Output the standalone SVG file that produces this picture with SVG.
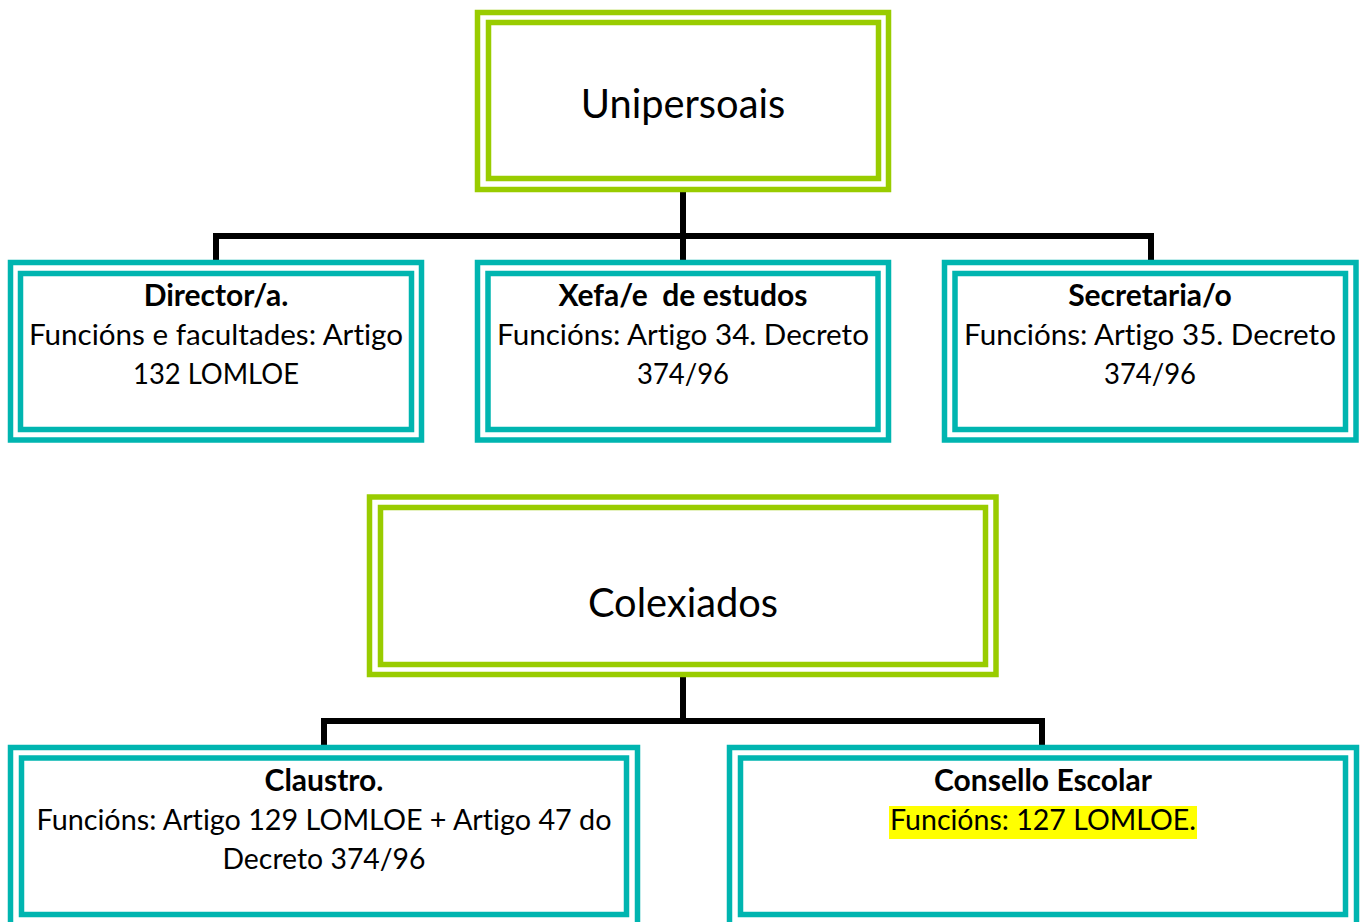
<svg xmlns="http://www.w3.org/2000/svg" width="1360" height="922" viewBox="0 0 1360 922">
<style>
.g{fill:none;stroke:#99CC00;stroke-width:5.5}
.t{fill:none;stroke:#00B5B0;stroke-width:5.5}
.c{fill:none;stroke:#000;stroke-width:6;stroke-linecap:butt}
text{font-family:Lato,"Open Sans","Liberation Sans",sans-serif;fill:#000;text-anchor:middle;font-variant-ligatures:none;font-feature-settings:"liga" 0}
.h{font-size:39.8px}
.b{font-size:30px;font-weight:bold}
.n{font-size:29.6px}
</style>
<rect width="1360" height="922" fill="#fff"/>
<g id="connectors">
<path class="c" d="M683 192V236M216 260V236H1151V260M683 236V260"/>
<path class="c" d="M683 677V721M324 745V721H1042V745"/>
</g>
<g id="unipersoais">
<rect class="g" x="477.5" y="12.5" width="411" height="177"/>
<rect class="g" x="488.5" y="22.5" width="390" height="156"/>
<text class="h" x="683" y="118">Unipersoais</text>
</g>
<g id="director">
<rect class="t" x="10.5" y="262.5" width="411" height="177.5"/>
<rect class="t" x="20.5" y="273.5" width="391" height="156"/>
<text class="b" x="216" y="306">Director/a.</text>
<text class="n" x="216" y="345">Funcións e facultades: Artigo</text>
<text class="n" x="216" y="384" textLength="166" lengthAdjust="spacingAndGlyphs">132 LOMLOE</text>
</g>
<g id="xefe">
<rect class="t" x="477.5" y="262.5" width="411" height="177.5"/>
<rect class="t" x="488" y="273.5" width="390" height="156"/>
<text class="b" x="683" y="306" xml:space="preserve">Xefa/e  de estudos</text>
<text class="n" x="683" y="345">Funcións: Artigo 34. Decreto</text>
<text class="n" x="683" y="384" textLength="92" lengthAdjust="spacingAndGlyphs">374/96</text>
</g>
<g id="secretaria">
<rect class="t" x="944.5" y="262.5" width="411.5" height="177.5"/>
<rect class="t" x="955" y="273.5" width="390.5" height="156"/>
<text class="b" x="1150" y="306">Secretaria/o</text>
<text class="n" x="1150" y="345">Funcións: Artigo 35. Decreto</text>
<text class="n" x="1150" y="384" textLength="92" lengthAdjust="spacingAndGlyphs">374/96</text>
</g>
<g id="colexiados">
<rect class="g" x="369.5" y="497" width="626.5" height="177.5"/>
<rect class="g" x="380.5" y="507.5" width="605" height="157"/>
<text class="h" x="683" y="617">Colexiados</text>
</g>
<g id="claustro">
<rect class="t" x="10.5" y="747.5" width="627" height="180"/>
<rect class="t" x="21.5" y="758" width="605" height="156.5"/>
<text class="b" x="324" y="791">Claustro.</text>
<text class="n" x="324" y="830" textLength="575" lengthAdjust="spacingAndGlyphs">Funcións: Artigo 129 LOMLOE + Artigo 47 do</text>
<text class="n" x="324" y="869" textLength="203" lengthAdjust="spacingAndGlyphs">Decreto 374/96</text>
</g>
<g id="consello">
<rect class="t" x="729.5" y="747.5" width="627" height="180"/>
<rect class="t" x="740.5" y="758" width="605" height="156.5"/>
<text class="b" x="1043" y="791">Consello Escolar</text>
<rect x="889" y="806" width="308" height="33" fill="#FFFF00"/>
<text class="n" x="1043" y="830" textLength="306" lengthAdjust="spacingAndGlyphs">Funcións: 127 LOMLOE.</text>
</g>
</svg>
